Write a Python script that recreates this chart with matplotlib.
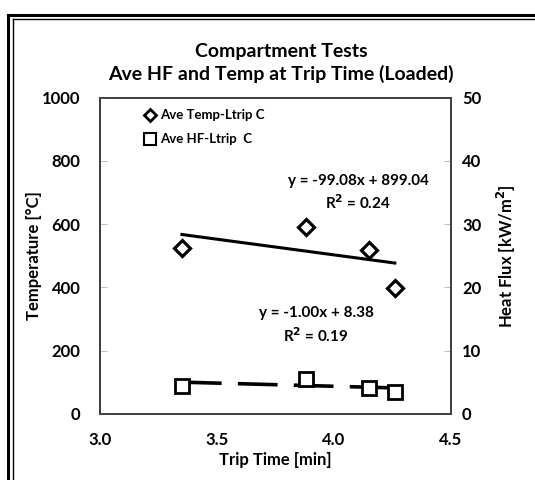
import matplotlib.pyplot as plt
import numpy as np
from matplotlib.lines import Line2D

plt.rcParams['font.family'] = ['Lato', 'DejaVu Sans']
plt.rcParams['font.weight'] = 'bold'
plt.rcParams['axes.labelweight'] = 'bold'

# Data
trip_time = [3.35, 3.88, 4.15, 4.26]
ave_temp = [524, 590, 518, 398]      # deg C
ave_hf = [4.4, 5.6, 4.1, 3.5]        # kW/m2

# trendline coefficients shown on the chart (slope, intercept, R2)
temp_fit = (-99.08, 899.04, 0.24)
hf_fit = (-1.00, 8.38, 0.19)

fig = plt.figure(figsize=(5.35, 4.8), dpi=100)
ax = fig.add_axes([100 / 535, 1 - 414 / 480, 351 / 535, 316.5 / 480])
ax2 = ax.twinx()

# points
ax.plot(trip_time, ave_temp, 'D', ms=8, mfc='white', mec='black', mew=2.3,
        zorder=5, clip_on=False)
ax2.plot(trip_time, ave_hf, 's', ms=9.5, mfc='white', mec='black', mew=2,
         zorder=5, clip_on=False)

# trend lines
xfit = np.array([min(trip_time), max(trip_time)])
ax.plot(xfit, temp_fit[0] * xfit + temp_fit[1], '-', color='black', lw=2.2)
ax2.plot(xfit, hf_fit[0] * xfit + hf_fit[1], color='black', lw=2.6,
         dashes=(11, 4.5))
ax.set_zorder(ax2.get_zorder() + 1)
ax.patch.set_visible(False)

ax.set_xlim(3.0, 4.5)
ax.set_ylim(0, 1000)
ax2.set_ylim(0, 50)
ax.set_xticks([3.0, 3.5, 4.0, 4.5])
ax.set_xticklabels(['3.0', '3.5', '4.0', '4.5'])
ax.set_yticks([0, 200, 400, 600, 800, 1000])
ax2.set_yticks([0, 10, 20, 30, 40, 50])

for a in (ax, ax2):
    for s in a.spines.values():
        s.set_color('#404040')
        s.set_linewidth(1.3)
    a.tick_params(axis='y', direction='in', length=5, width=0.8,
                  color='#c0c0c0', labelsize=12, pad=14)
ax.tick_params(axis='x', length=0, labelsize=12, pad=13)
ax2.tick_params(axis='y', pad=8)

ax.set_xlabel('Trip Time [min]', fontsize=12, labelpad=3)
ax.set_ylabel('Temperature [°C]', fontsize=12, labelpad=0)
ax2.set_ylabel('Heat Flux [kW/m$^\\mathbf{2}$]', fontsize=12, labelpad=10)

fig.text(0.525, 1 - 51 / 480, 'Compartment Tests', ha='center', va='center',
         fontsize=14)
fig.text(0.525, 1 - 74 / 480, 'Ave HF and Temp at Trip Time (Loaded)',
         ha='center', va='center', fontsize=14)

# trendline labels
ax.text(4.103, 736, 'y = %.2fx + %.2f' % (temp_fit[0], temp_fit[1]),
        ha='center', va='center', fontsize=11)
ax.text(4.10, 667, 'R$^\\mathbf{2}$ = %.2f' % temp_fit[2], ha='center',
        va='center', fontsize=11)
ax.text(3.923, 319, 'y = %.2fx + %.2f' % (hf_fit[0], hf_fit[1]),
        ha='center', va='center', fontsize=11)
ax.text(3.923, 246, 'R$^\\mathbf{2}$ = %.2f' % hf_fit[2], ha='center',
        va='center', fontsize=11)

handles = [
    Line2D([], [], ls='none', marker='D', ms=6.5, mfc='white', mec='black', mew=2),
    Line2D([], [], ls='none', marker='s', ms=8, mfc='white', mec='black', mew=1.5),
]
ax.legend(handles, ['Ave Temp-Ltrip C', 'Ave HF-Ltrip  C'], loc='upper left',
          bbox_to_anchor=(0.095, 1.0), frameon=False,
          prop={'weight': 'bold', 'size': 9.5},
          handlelength=0.8, handletextpad=0.3, labelspacing=0.9)

# double border of the chart area
def border(x0, y0, x1, y1, lw):
    fig.add_artist(Line2D([x0 / 535, x1 / 535], [1 - y0 / 480, 1 - y1 / 480],
                          color='black', lw=lw, transform=fig.transFigure))

border(8, 14.5, 8, 480, 2.2)
border(8, 14.5, 535, 14.5, 2.2)
border(12.5, 19, 12.5, 480, 1.0)
border(12.5, 19, 535, 19, 1.0)

fig.savefig('out.png', dpi=100)
